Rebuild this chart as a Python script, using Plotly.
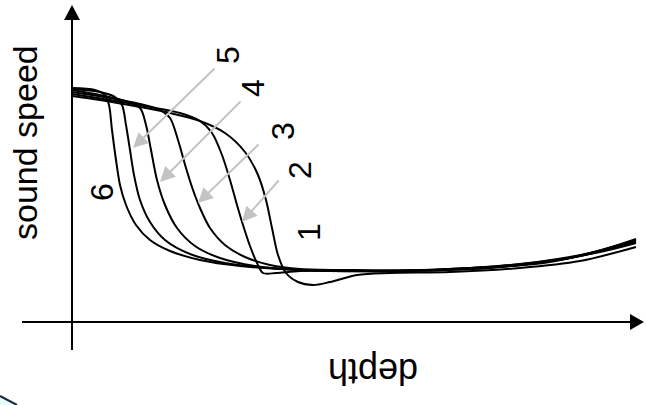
import plotly.graph_objects as go

W, H = 646, 405

# Sound-speed profiles (arbitrary units): depth measured from the speed axis,
# speed measured from the depth axis. Profiles 1..6 move the thermocline shallower.
depth_1 = [0, 28, 68, 98, 128, 153, 173, 186, 194, 200, 206, 214, 226, 241, 258, 285, 318, 378, 448, 508, 564]
speed_1 = [226, 222, 215, 209, 201, 189, 170, 147, 122, 94, 67, 49, 40, 37, 40, 47, 49, 50, 54, 61, 75]

depth_2 = [0, 38, 78, 108, 128, 140, 150, 158, 165, 171, 178, 185, 191, 204, 228, 278, 328, 398, 468, 528, 564]
speed_2 = [228, 222, 215, 209, 201, 189, 167, 142, 117, 97, 76, 59, 49, 49, 51, 51, 51, 54, 60, 70, 79]

depth_3 = [0, 38, 68, 88, 98, 106, 114, 121, 128, 138, 153, 173, 198, 228, 278, 348, 428, 498, 564]
speed_3 = [230, 224, 218, 212, 204, 182, 154, 132, 114, 94, 77, 65, 57, 53, 52, 52, 56, 65, 80]

depth_4 = [0, 28, 53, 68, 74, 79, 85, 93, 105, 123, 148, 183, 228, 328, 428, 508, 564]
speed_4 = [232, 227, 221, 214, 197, 172, 142, 117, 94, 76, 64, 56, 52, 51, 55, 66, 81]

depth_5 = [0, 28, 43, 50, 54, 58, 62, 68, 78, 93, 118, 153, 198, 278, 378, 478, 564]
speed_5 = [233, 230, 225, 217, 197, 172, 147, 122, 100, 82, 68, 59, 54, 51, 53, 60, 82]

depth_6 = [0, 23, 33, 37, 40, 44, 48, 54, 64, 78, 98, 128, 168, 228, 328, 428, 508, 564]
speed_6 = [234, 232, 227, 217, 192, 162, 137, 117, 97, 82, 71, 62, 56, 52, 51, 55, 66, 83]

profiles = [
    (depth_1, speed_1), (depth_2, speed_2), (depth_3, speed_3),
    (depth_4, speed_4), (depth_5, speed_5), (depth_6, speed_6),
]

# Profile numbers: label, depth, speed of the label
label_names = ["1", "2", "3", "4", "5", "6"]
label_depth = [237, 228, 211, 181, 156, 30]
label_speed = [90, 152, 191, 234, 267, 130]

# Pointer arrows for profiles 2..5: (tail depth, tail speed, tip depth, tip speed)
pointer_names = ["2", "3", "4", "5"]
pointer_tail_depth = [208, 188, 170, 144]
pointer_tail_speed = [143, 179, 222, 255]
pointer_tip_depth = [170, 126, 88, 61]
pointer_tip_speed = [100, 119, 140, 174]

X_RANGE = [-72, 574]
Y_RANGE = [-83, 322]
FONT = "Liberation Sans, Arial, sans-serif"

fig = go.Figure()
for d, s in profiles:
    fig.add_trace(go.Scatter(
        x=d, y=s, mode="lines",
        line=dict(color="black", width=2, shape="spline", smoothing=0.9),
        hoverinfo="skip", showlegend=False,
    ))

for tx, ty, hx, hy in zip(pointer_tail_depth, pointer_tail_speed, pointer_tip_depth, pointer_tip_speed):
    fig.add_annotation(
        x=hx, y=hy, ax=tx, ay=ty, xref="x", yref="y", axref="x", ayref="y",
        text="", showarrow=True, arrowhead=2, arrowsize=1.5, arrowwidth=2,
        arrowcolor="#c3c3c3", standoff=0,
    )

for name, d, s in zip(label_names, label_depth, label_speed):
    fig.add_annotation(
        x=d, y=s, xref="x", yref="y", text=name, showarrow=False, textangle=-90,
        font=dict(family=FONT, size=32, color="black"), xanchor="center", yanchor="middle",
    )

# Axis titles
fig.add_annotation(x=-47, y=179, xref="x", yref="y", text="sound speed", showarrow=False,
                   textangle=-90, font=dict(family=FONT, size=34, color="black"),
                   xanchor="center", yanchor="middle")
fig.add_annotation(x=301, y=-50, xref="x", yref="y", text="depth", showarrow=False,
                   textangle=180, font=dict(family=FONT, size=36, color="black"),
                   xanchor="center", yanchor="middle")

# Hand-drawn axes with arrow heads (data units)
axis_shapes = [
    dict(type="line", x0=0, y0=-28, x1=0, y1=304, line=dict(color="black", width=2)),
    dict(type="path", path="M -8,302 L 8,302 L 0,317 Z", fillcolor="black", line=dict(width=0)),
    dict(type="line", x0=-50, y0=0, x1=560, y1=0, line=dict(color="black", width=2)),
    dict(type="path", path="M 558,-8 L 558,8 L 572,0 Z", fillcolor="black", line=dict(width=0)),
]
for sh in axis_shapes:
    fig.add_shape(xref="x", yref="y", layer="above", **sh)

# Corner of a neighbouring box peeking in at the bottom-left
fig.add_shape(type="path", xref="paper", yref="paper",
              path=f"M 0,{1 - 396 / H} L {17 / W},0 L 0,0 Z",
              fillcolor="#e6fbfb", line=dict(width=0))
fig.add_shape(type="line", xref="paper", yref="paper",
              x0=0, y0=1 - 396 / H, x1=17 / W, y1=0,
              line=dict(color="#1a2a3a", width=2))

fig.update_layout(
    width=W, height=H, margin=dict(l=0, r=0, t=0, b=0),
    paper_bgcolor="white", plot_bgcolor="white",
    xaxis=dict(range=X_RANGE, visible=False, fixedrange=True),
    yaxis=dict(range=Y_RANGE, visible=False, fixedrange=True),
    showlegend=False,
)

fig.write_html("out.html")
